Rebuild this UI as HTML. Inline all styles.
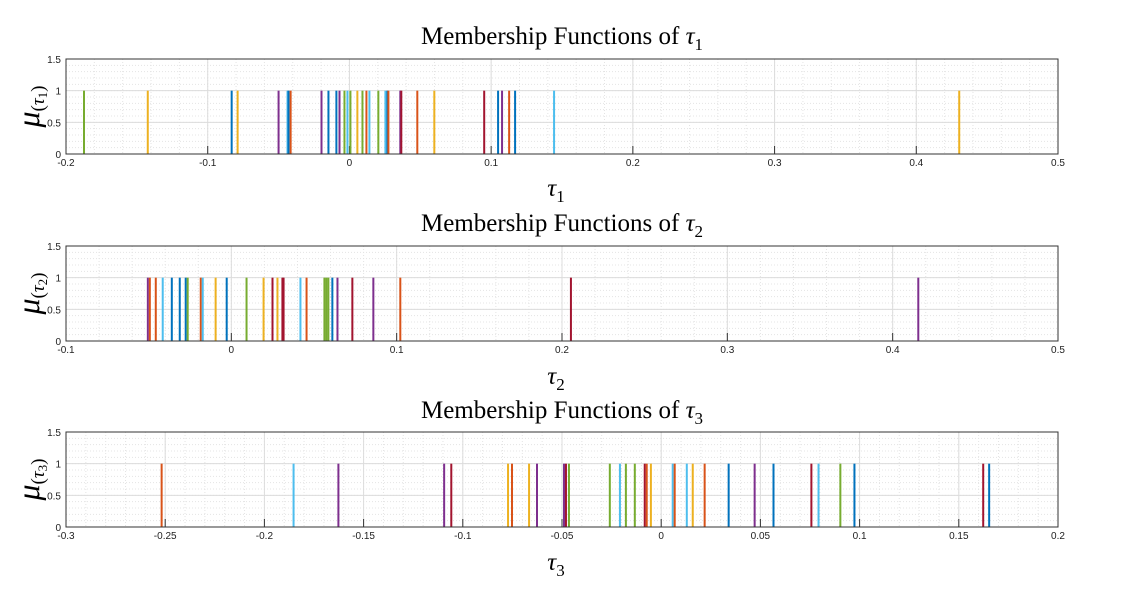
<!DOCTYPE html>
<html><head><meta charset="utf-8"><style>
body{margin:0;background:#fff;}
svg{display:block;font-family:"Liberation Sans",sans-serif;}
.t{font-family:"Liberation Serif",serif;font-size:25px;fill:#000;}
.tk{font-size:10px;fill:#222;}
</style></head><body>
<svg id="c" width="1127" height="595"></svg>
<script>
const C={b:'#0072BD',o:'#D95319',y:'#EDB120',p:'#7E2F8E',g:'#77AC30',l:'#4DBEEE',r:'#A2142F'};
const tau1Values=[-0.1873,-0.1423,-0.0831,-0.0789,-0.0500,-0.0437,-0.0430,-0.0415,-0.0197,-0.0148,-0.0092,-0.0070,-0.0035,-0.0014,0.0007,0.0056,0.0092,0.0120,0.0141,0.0204,0.0254,0.0268,0.0275,0.0359,0.0366,0.0479,0.0599,0.0951,0.1049,0.1077,0.1127,0.1169,0.1444,0.4303];
const tau1Colors=['g','y','b','y','p','l','b','o','p','b','b','p','g','l','g','y','g','o','l','g','l','b','o','p','r','o','y','r','b','p','o','b','l','y'];
const tau2Values=[-0.0505,-0.0493,-0.0457,-0.0415,-0.0360,-0.0312,-0.0276,-0.0264,-0.0185,-0.0173,-0.0095,-0.0028,0.0092,0.0195,0.0249,0.0279,0.0309,0.0316,0.0418,0.0455,0.0563,0.0575,0.0587,0.0611,0.0642,0.0732,0.0859,0.1022,0.2054,0.4155];
const tau2Colors=['p','o','o','l','b','b','b','g','o','l','y','b','g','y','r','y','r','r','l','o','g','g','g','b','p','r','p','o','r','p'];
const tau3Values=[-0.2518,-0.1853,-0.1627,-0.1094,-0.1058,-0.0772,-0.0752,-0.0666,-0.0626,-0.0490,-0.0480,-0.0465,-0.0259,-0.0208,-0.0178,-0.0133,-0.0083,-0.0073,-0.0052,0.0058,0.0068,0.0129,0.0159,0.0219,0.0340,0.0471,0.0566,0.0757,0.0793,0.0903,0.0974,0.1623,0.1653];
const tau3Colors=['o','l','p','p','r','y','o','y','p','p','r','g','g','l','g','g','r','o','y','l','o','l','y','o','b','p','b','r','l','g','b','r','b'];
const ticks1=['-0.2','-0.1','0','0.1','0.2','0.3','0.4','0.5'];
const ticks2=['-0.1','0','0.1','0.2','0.3','0.4','0.5'];
const ticks3=['-0.3','-0.25','-0.2','-0.15','-0.1','-0.05','0','0.05','0.1','0.15','0.2'];
const yTicks=['0','0.5','1','1.5'];
const NS='http://www.w3.org/2000/svg';
const svg=document.getElementById('c');
function mk(tag,attrs,parent){const e=document.createElementNS(NS,tag);for(const k in attrs)e.setAttribute(k,attrs[k]);(parent||svg).appendChild(e);return e;}
const panels=[
 {vals:tau1Values,cols:tau1Colors,ticks:ticks1,min:-0.2,max:0.5,minor:0.02,top:59,ty:44,xl:196,n:'1'},
 {vals:tau2Values,cols:tau2Colors,ticks:ticks2,min:-0.1,max:0.5,minor:0.02,top:246,ty:231,xl:384,n:'2'},
 {vals:tau3Values,cols:tau3Colors,ticks:ticks3,min:-0.3,max:0.2,minor:0.01,top:432,ty:418,xl:570,n:'3'}];
const L=66,R=1058,H=95;
panels.forEach((P,pi)=>{
 const g=mk('g',{});
 
 
 const X=v=>L+(v-P.min)/(P.max-P.min)*(R-L);
 const Y=v=>P.top+H-v/1.5*H;
 for(let v=P.min;v<=P.max+1e-9;v+=P.minor){mk('line',{x1:X(v),x2:X(v),y1:P.top,y2:P.top+H,stroke:'#e4e4e4','stroke-dasharray':'1,2','stroke-width':1},g);}
 for(let v=0;v<=1.5001;v+=0.1){mk('line',{x1:L,x2:R,y1:Y(v),y2:Y(v),stroke:'#e4e4e4','stroke-dasharray':'1,2','stroke-width':1},g);}
 P.ticks.forEach(t=>{const v=parseFloat(t);mk('line',{x1:X(v),x2:X(v),y1:P.top,y2:P.top+H,stroke:'#dcdcdc'},g);
  const tx=mk('text',{x:X(v),y:P.top+H+12,'text-anchor':'middle',class:'tk'},g);tx.textContent=t;
  
  
  mk('line',{x1:X(v),x2:X(v),y1:P.top+H,y2:P.top+H-8,stroke:'#333'},g);});
 yTicks.forEach(t=>{const v=parseFloat(t);mk('line',{x1:L,x2:R,y1:Y(v),y2:Y(v),stroke:'#dcdcdc'},g);
  const tx=mk('text',{x:L-5,y:Y(v)+4,'text-anchor':'end',class:'tk'},g);tx.textContent=t;
  
  });
 P.vals.forEach((v,i)=>{const ln=mk('line',{x1:X(v),x2:X(v),y1:Y(0),y2:Y(1),stroke:C[P.cols[i]],'stroke-width':2},g);
  
  });
 mk('rect',{x:L,y:P.top,width:R-L,height:H,fill:'none',stroke:'#333','stroke-width':1},g);
 const ti=mk('text',{x:562,y:P.ty,'text-anchor':'middle',class:'t'},g);
 ti.innerHTML='Membership Functions of <tspan font-style="italic">τ</tspan><tspan font-size="17" dy="6">'+P.n+'</tspan>';
 
 
 const xl=mk('text',{x:556,y:P.xl,'text-anchor':'middle',class:'t'},g);
 xl.innerHTML='<tspan font-style="italic">τ</tspan><tspan font-size="17" dy="6">'+P.n+'</tspan>';
 
 
 const yl=mk('text',{transform:'translate(39,'+(P.top+H/2)+') rotate(-90)','text-anchor':'middle',class:'t'},g);
 yl.innerHTML='<tspan font-style="italic" font-size="32">μ</tspan><tspan font-size="19" dy="5">(</tspan><tspan font-size="19" font-style="italic">τ</tspan><tspan font-size="13" dy="3">'+P.n+'</tspan><tspan font-size="19" dy="-3">)</tspan>';
 
 
});
</script>
</body></html>
